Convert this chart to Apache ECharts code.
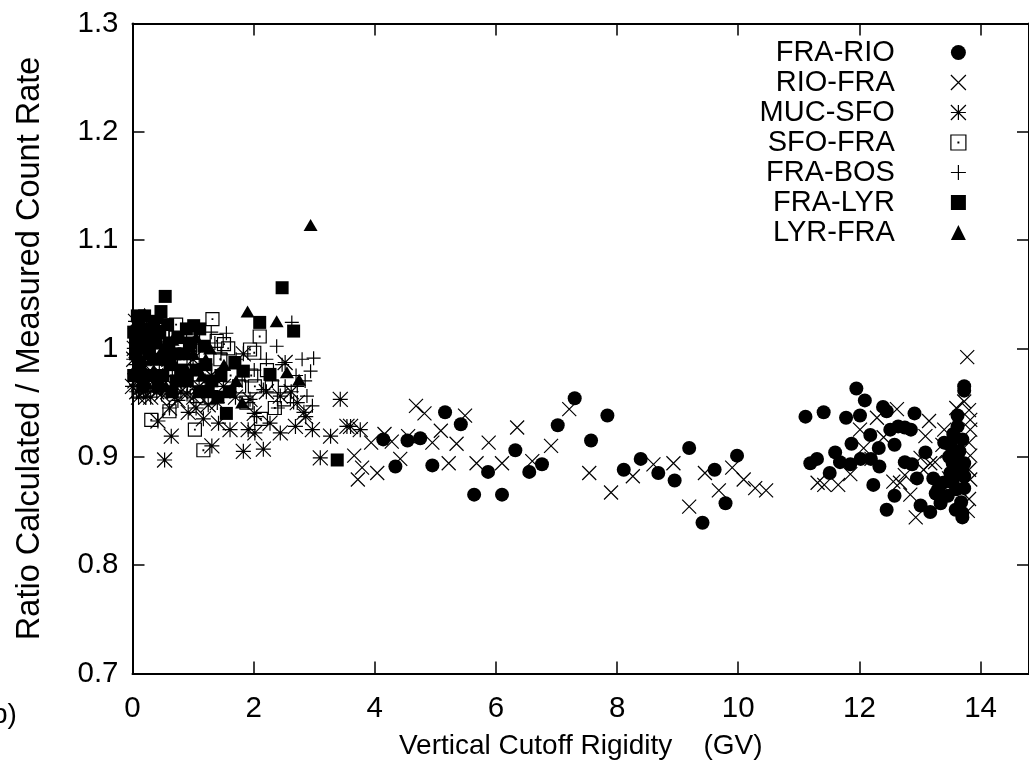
<!DOCTYPE html>
<html><head><meta charset="utf-8">
<script src="https://cdn.jsdelivr.net/npm/echarts@6/dist/echarts.min.js"></script>
<style>html,body{margin:0;padding:0;background:#fff;}#c{width:1029px;height:770px;}</style>
</head><body><div id="c"></div>
<script>
// ---------- data ----------
const seriesNames = ['FRA-RIO','RIO-FRA','MUC-SFO','SFO-FRA','FRA-BOS','FRA-LYR','LYR-FRA'];
const xTickLabels = ['0','2','4','6','8','10','12','14'];
const yTickLabels = ['0.7','0.8','0.9','1','1.1','1.2','1.3'];

const FRA_RIO = [
 [4.14,0.916],[4.54,0.915],[4.75,0.917],[4.34,0.891],[4.95,0.892],[5.16,0.941],[5.42,0.930],[5.64,0.865],
 [5.87,0.886],[6.10,0.865],[6.32,0.906],[6.55,0.886],[6.76,0.893],[7.02,0.929],[7.30,0.954],[7.57,0.915],
 [7.84,0.938],[8.11,0.888],[8.39,0.898],[8.68,0.885],[8.95,0.878],[9.19,0.908],[9.41,0.839],[9.61,0.888],
 [9.79,0.857],[9.98,0.901],
 [11.11,0.937],[11.41,0.941],[11.95,0.963],[12.09,0.952],[11.78,0.936],[12.01,0.938],[12.39,0.946],[12.45,0.942],
 [12.91,0.940],[12.18,0.920],[12.32,0.908],[11.87,0.912],[11.60,0.904],[11.19,0.894],[11.30,0.898],[11.68,0.895],
 [11.85,0.893],[12.02,0.898],[12.19,0.898],[12.33,0.891],[11.51,0.885],[12.23,0.874],[12.51,0.925],[12.64,0.928],
 [12.75,0.927],[12.85,0.925],[12.58,0.911],[12.75,0.895],[12.87,0.893],[12.95,0.880],[13.09,0.904],[13.22,0.880],
 [12.58,0.864],[12.45,0.851],[13.01,0.855],[13.17,0.849],[13.26,0.866],[13.35,0.861],[13.46,0.864],[13.40,0.913],
 [13.51,0.911],[13.62,0.938],[13.62,0.928],[13.73,0.965],[13.73,0.961],[13.70,0.916],[13.62,0.901],[13.54,0.894],
 [13.73,0.894],[13.62,0.885],[13.73,0.882],[13.54,0.876],[13.73,0.871],[13.59,0.851],[13.70,0.844],[13.70,0.848],
 [13.38,0.876],[13.30,0.870],[13.65,0.905],[13.70,0.890],[13.60,0.870],[13.68,0.858],[13.55,0.921],[13.48,0.900],
 [13.50,0.885],[13.34,0.857]
];
const RIO_FRA = [
 [3.66,0.901],[3.72,0.879],[3.79,0.890],[3.94,0.913],[4.04,0.885],[4.16,0.921],[4.28,0.914],[4.42,0.898],
 [4.55,0.919],[4.68,0.947],[4.82,0.940],[4.95,0.913],[5.09,0.924],[5.22,0.894],[5.35,0.912],[5.49,0.938],
 [5.68,0.894],[5.88,0.913],[6.10,0.894],[6.35,0.927],[6.60,0.896],[6.91,0.910],[7.21,0.944],[7.54,0.885],
 [7.90,0.867],[8.26,0.882],[8.60,0.893],[8.93,0.894],[9.19,0.854],[9.45,0.885],[9.68,0.869],[9.90,0.890],
 [10.09,0.879],[10.28,0.871],[10.46,0.869],
 [11.31,0.876],[11.42,0.874],[11.65,0.874],[11.85,0.884],[12.01,0.925],[12.07,0.908],[12.29,0.936],[12.62,0.944],
 [12.56,0.877],[12.67,0.876],[12.84,0.865],[12.93,0.844],[13.15,0.933],[13.09,0.919],[13.01,0.899],[13.17,0.894],
 [13.37,0.911],[13.40,0.925],[13.73,0.951],[13.81,0.943],[13.83,0.934],[13.83,0.925],[13.81,0.913],[13.83,0.901],
 [13.81,0.888],[13.83,0.879],[13.81,0.861],[13.78,0.992],[12.75,0.883],[13.06,0.888],[13.45,0.905],[13.55,0.895],
 [13.48,0.880],[13.60,0.945],[13.65,0.870],[12.20,0.898],[12.40,0.918],[13.25,0.895],[13.30,0.875],[13.79,0.850]
];
const MUC_SFO = [
 [0.02,0.990],[0.04,0.970],[0.07,0.960],[0.12,0.975],[0.10,1.010],[0.15,1.000],[0.18,0.960],[0.25,0.965],
 [0.30,1.020],[0.30,0.955],[0.40,0.960],[0.42,0.933],[0.53,0.897],[0.61,0.945],[0.64,0.919],[0.70,0.955],
 [0.80,0.960],[0.92,0.941],[1.00,0.990],[1.01,0.955],[1.17,0.935],[1.20,0.970],[1.31,0.910],[1.42,0.931],
 [1.50,0.965],[1.61,0.925],[1.70,0.955],[1.83,0.995],[1.83,0.905],[1.91,0.925],[1.94,0.953],[2.01,0.940],
 [2.02,0.922],[2.16,0.907],[2.21,0.960],[2.27,0.931],[2.44,0.922],[2.44,0.956],[2.52,0.987],[2.62,0.960],
 [2.69,0.928],[2.72,0.950],[2.83,0.941],[2.86,0.937],[2.97,0.925],[3.10,0.899],[3.27,0.919],[3.43,0.953],
 [3.54,0.928],[3.60,0.928],[3.76,0.925],[0.50,0.975],[0.85,0.970],[0.20,0.985],[0.60,0.990],[1.10,0.965],
 [1.30,0.975],[0.05,1.025],
 [0.00,0.965],[0.03,1.000],[0.06,0.985],[0.10,0.955],[0.22,0.955],[0.35,0.963],[0.48,0.958],[0.58,0.960],
 [0.75,0.952],[0.90,0.958],[1.05,0.945],[1.25,0.948],[1.40,0.950]
];
const SFO_FRA = [
 [0.31,0.934],[1.03,0.925],[1.17,0.906],[0.61,0.942],[1.06,0.956],[1.32,1.027],[0.72,1.022],[1.39,1.007],
 [1.51,1.004],[1.94,0.999],[2.01,0.996],[2.10,1.011],[2.30,0.965],[2.35,0.945],[1.88,0.950],[2.50,0.953],
 [0.20,0.990],[0.40,1.000],[0.55,0.980],[0.85,0.990],[0.95,1.000],[1.20,0.980],[1.45,0.990],[1.62,0.975],
 [1.76,0.965],[2.02,0.965],[0.10,0.960],[0.30,0.970],[0.80,0.965],[1.30,0.955],[1.00,1.010],[1.58,1.000],
 [2.22,0.980],[1.96,0.975],[0.50,1.015],[2.12,0.935]
];
const FRA_BOS = [
 [2.63,1.024],[2.38,1.002],[2.80,0.990],[2.99,0.991],[2.94,0.979],[2.88,0.956],[2.97,0.947],[2.16,0.962],
 [2.66,0.950],[2.05,0.937],[2.72,0.965],[1.55,1.014],[1.30,1.015],[1.36,1.005],[1.46,0.995],[1.20,1.000],
 [1.10,0.990],[1.51,0.980],[1.71,0.990],[1.81,0.970],[2.01,0.980],[2.31,0.970],[2.52,0.965],[2.70,0.975],
 [0.30,1.000],[0.50,0.990],[0.70,0.975],[0.90,0.985],[1.00,0.970],[0.20,0.980],[0.60,1.010],[2.47,0.985],
 [2.21,0.990],[1.61,0.960],[1.91,0.950],[2.40,0.945],[2.85,0.970]
];
const FRA_LYR = [
 [0.54,1.048],[0.47,1.034],[0.20,1.030],[0.10,1.020],[0.15,1.010],[0.30,1.012],[0.35,1.025],[0.25,1.000],
 [0.05,0.995],[0.40,0.990],[0.60,1.005],[0.70,0.995],[0.80,0.980],[0.90,0.970],[1.01,1.021],[1.11,1.018],
 [0.89,1.018],[1.21,0.985],[1.31,0.970],[1.46,0.975],[1.55,0.940],[1.69,0.987],[1.83,0.979],[2.10,1.024],
 [2.27,0.976],[2.47,1.056],[2.66,1.016],[3.38,0.897],[0.15,0.975],[0.65,0.960],[1.11,0.960],[0.50,0.975],
 [1.41,0.955],[1.61,0.960],[0.75,1.010],[0.05,1.005],
 [0.08,1.030],[0.12,0.985],[0.22,1.018],[0.28,0.995],[0.38,1.005],[0.45,1.015],[0.55,0.990],[0.62,0.985],
 [0.72,0.970],[0.85,0.995],[0.95,1.005],[1.05,0.980],[0.18,0.965],[0.35,0.975],[0.42,0.965],[0.02,1.015],
 [0.02,0.975],[0.58,1.022],[1.18,1.002],[1.25,0.960]
];
const LYR_FRA = [
 [0.20,1.032],[0.45,1.028],[0.10,1.005],[0.30,0.990],[0.60,1.000],[0.66,1.008],[0.80,1.010],[0.95,1.002],
 [1.00,0.995],[1.21,0.990],[1.28,1.000],[1.51,0.985],[1.71,0.970],[1.90,1.034],[2.38,1.025],[2.55,0.978],
 [2.75,0.971],[2.94,1.114],[0.70,0.985],[0.90,0.980],[1.81,0.950],
 [0.05,1.020],[0.15,0.990],[0.25,1.015],[0.35,0.980],[0.50,1.000],[0.55,0.965],[0.85,0.975],[1.05,1.010],
 [1.15,0.975],[0.40,1.022]
];
const seriesData = [FRA_RIO, RIO_FRA, MUC_SFO, SFO_FRA, FRA_BOS, FRA_LYR, LYR_FRA];

// ---------- styling ----------
const FONT = '"Liberation Sans", Arial, Helvetica, sans-serif';
const P_CROSS = 'path://M0,0L20,20M20,0L0,20';
const P_STAR = 'path://M0,0L20,20M20,0L0,20M10,0L10,20M0,10L20,10';
const P_OSQ = 'path://M0,0L20,0L20,20L0,20Z M9.5,9.5L10.5,9.5L10.5,10.5L9.5,10.5Z';
const P_PLUS = 'path://M10,0L10,20M0,10L20,10';
const symbols = ['circle', P_CROSS, P_STAR, P_OSQ, P_PLUS, 'rect', 'triangle'];
const sizes = [14, 14, 15, 13, 14, 13, [14, 12]];
const stroked = [false, true, true, true, true, false, false];

function styleFor(i) {
  return stroked[i]
    ? {color: 'rgba(0,0,0,0)', borderColor: '#000', borderWidth: 1.2, opacity: 1}
    : {color: '#000', borderWidth: 0, opacity: 1};
}

const chart = echarts.init(document.getElementById('c'), null, {renderer: 'canvas'});

const axisCommon = {
  type: 'value',
  axisLine: {show: true, onZero: false, lineStyle: {color: '#000', width: 2}},
  axisTick: {show: true, inside: true, length: 12, lineStyle: {color: '#000', width: 1.5}},
  splitLine: {show: false}
};

const option = {
  animation: false,
  backgroundColor: '#fff',
  textStyle: {fontFamily: FONT},
  grid: {left: 132.5, right: -7.8, top: 23.4, bottom: 96.6, containLabel: false},
  xAxis: [
    Object.assign({}, axisCommon, {
      min: 0, max: 14.8, interval: 2, position: 'bottom',
      axisLabel: {color: '#000', fontSize: 29.5, fontFamily: FONT, margin: 20, showMaxLabel: false,
        formatter: v => { const k = Math.round(v / 2); return (Math.abs(v - 2 * k) < 1e-6 && xTickLabels[k] !== undefined) ? xTickLabels[k] : ''; }},
      name: 'Vertical Cutoff Rigidity    (GV)', nameLocation: 'middle', nameGap: 59,
      nameTextStyle: {color: '#000', fontSize: 28, fontFamily: FONT}
    }),
    Object.assign({}, axisCommon, {
      min: 0, max: 14.8, interval: 2, position: 'top', axisLabel: {show: false}
    })
  ],
  yAxis: [
    Object.assign({}, axisCommon, {
      min: 0.7, max: 1.3, interval: 0.1, position: 'left',
      axisLabel: {color: '#000', fontSize: 29.5, fontFamily: FONT, margin: 14,
        formatter: v => { const k = Math.round((v - 0.7) * 10); return yTickLabels[k] !== undefined ? yTickLabels[k] : ''; }},
      name: 'Ratio Calculated / Measured Count Rate', nameLocation: 'middle', nameGap: 86,
      nameTextStyle: {color: '#000', fontSize: 32.5, fontFamily: FONT}
    }),
    Object.assign({}, axisCommon, {
      min: 0.7, max: 1.3, interval: 0.1, position: 'right', axisLabel: {show: false}
    })
  ],
  legend: {
    orient: 'vertical', right: 57.5, top: 33, align: 'right',
    itemWidth: 15, itemHeight: 15, itemGap: 1, selectedMode: false,
    textStyle: {color: '#000', fontSize: 29, fontFamily: FONT, padding: [0, 51, 0, 0]},
    data: seriesNames.map((n, i) => ({name: n, icon: symbols[i], itemStyle: styleFor(i)}))
  },
  graphic: [{type: 'text', left: -8, top: 701, style: {text: 'b)', font: '28px ' + FONT, fill: '#000'}}],
  series: seriesNames.map((n, i) => ({
    name: n, type: 'scatter', xAxisIndex: 0, yAxisIndex: 0,
    symbol: symbols[i], symbolSize: sizes[i], clip: false,
    itemStyle: styleFor(i), emphasis: {disabled: true},
    data: seriesData[i]
  }))
};
chart.setOption(option);
</script></body></html>
